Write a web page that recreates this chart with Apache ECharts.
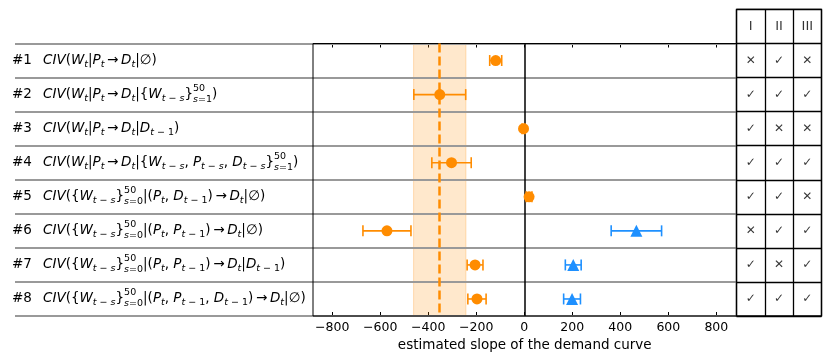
<!DOCTYPE html>
<html>
<head>
<meta charset="utf-8">
<script src="https://cdn.jsdelivr.net/npm/echarts@6/dist/echarts.min.js"></script>
<style>
html,body{margin:0;padding:0;background:#fff;}
#chart{width:831px;height:362px;}
</style>
</head>
<body>
<div id="chart"></div>
<script>
// ---------------- data ----------------
const rowIds = ['#1', '#2', '#3', '#4', '#5', '#6', '#7', '#8'];
const rowFormulas = [
  'CIV(W_t|P_t→D_t|∅)',
  'CIV(W_t|P_t→D_t|\\{W_{t − s}\\}^{50}_{s=1})',
  'CIV(W_t|P_t→D_t|D_{t − 1})',
  'CIV(W_t|P_t→D_t|\\{W_{t − s}, P_{t − s}, D_{t − s}\\}^{50}_{s=1})',
  'CIV(\\{W_{t − s}\\}^{50}_{s=0}|(P_t, D_{t − 1})→D_t|∅)',
  'CIV(\\{W_{t − s}\\}^{50}_{s=0}|(P_t, P_{t − 1})→D_t|∅)',
  'CIV(\\{W_{t − s}\\}^{50}_{s=0}|(P_t, P_{t − 1})→D_t|D_{t − 1})',
  'CIV(\\{W_{t − s}\\}^{50}_{s=0}|(P_t, P_{t − 1}, D_{t − 1})→D_t|∅)'
];
const orangeEst = [-119, -352, -3, -303, 20, -572, -205, -197];
const orangeErr = [25, 108, 6, 82, 12, 100, 33, 38];
const blueEst = [null, null, null, null, null, 467, 204, 199];
const blueErr = [null, null, null, null, null, 105, 33, 35];
const refMedian = -354;
const refLow = -461;
const refHigh = -243;
const xTicks = [-800, -600, -400, -200, 0, 200, 400, 600, 800];
const xName = 'estimated slope of the demand curve';
const tableHeader = ['I', 'II', 'III'];
const colI   = ['✕', '✓', '✓', '✓', '✓', '✕', '✓', '✓'];
const colII  = ['✓', '✓', '✕', '✓', '✓', '✓', '✕', '✓'];
const colIII = ['✕', '✓', '✕', '✓', '✕', '✓', '✓', '✓'];

// ---------------- helpers ----------------
const FONT = 'DejaVu Sans';
const ORANGE = '#ff8c00';
const BLUE = '#1e90ff';

function texToRich(s) {
  let out = '';
  let i = 0;
  function readGroup() {
    if (s[i] === '{') {
      let depth = 1, j = i + 1;
      while (depth) { if (s[j] === '{') depth++; else if (s[j] === '}') depth--; j++; }
      const g = s.slice(i + 1, j - 1); i = j; return g;
    }
    return s[i++];
  }
  function scriptTokens(g, it, up) {
    let res = '', cur = null, buf = '';
    for (const ch of g) {
      const k = /[A-Za-z]/.test(ch) ? it : up;
      if (k !== cur && buf) { res += '{' + cur + '|' + buf + '}'; buf = ''; }
      cur = k; buf += ch;
    }
    if (buf) res += '{' + cur + '|' + buf + '}';
    return res;
  }
  while (i < s.length) {
    const ch = s[i];
    if (ch === '\\') { out += s[i + 1]; i += 2; continue; }
    if (ch === '_') { i++; out += scriptTokens(readGroup(), 'si', 'sr'); continue; }
    if (ch === '^') {
      i++; const sup = readGroup();
      if (s[i] === '_') { i++; const sub = readGroup(); out += '{pz|' + sup + '}' + scriptTokens(sub, 'ssi', 'ssr'); }
      else out += scriptTokens(sup, 'pi', 'pr');
      continue;
    }
    if (/[A-Za-z]/.test(ch)) {
      let j = i; while (j < s.length && /[A-Za-z]/.test(s[j])) j++;
      out += '{i|' + s.slice(i, j) + '}'; i = j; continue;
    }
    if (ch === '→') { out += '\u2009→\u2009'; i++; continue; }
    out += ch; i++;
  }
  return out;
}

const FS = 13.5, SFS = 9.5;
const rich = {
  n:   {fontFamily: FONT, fontSize: FS, width: 31, align: 'left', color: '#000'},
  i:   {fontFamily: FONT, fontSize: FS, fontStyle: 'italic', color: '#000'},
  si:  {fontFamily: FONT, fontSize: SFS, fontStyle: 'italic', padding: [7, 0, 0, 0], color: '#000'},
  sr:  {fontFamily: FONT, fontSize: SFS, padding: [7, 0, 0, 0], color: '#000'},
  ssi: {fontFamily: FONT, fontSize: SFS, fontStyle: 'italic', padding: [10, 0, 0, 0], color: '#000'},
  ssr: {fontFamily: FONT, fontSize: SFS, padding: [10, 0, 0, 0], color: '#000'},
  pr:  {fontFamily: FONT, fontSize: SFS, padding: [0, 0, 11, 0], color: '#000'},
  pi:  {fontFamily: FONT, fontSize: SFS, fontStyle: 'italic', padding: [0, 0, 11, 0], color: '#000'},
  pz:  {fontFamily: FONT, fontSize: SFS, padding: [0, 0, 12, 0], width: 0.01, align: 'left', color: '#000'}
};

function fmtNum(v) { return v < 0 ? '\u2212' + (-v) : String(v); }

// ---------------- series data ----------------
const rowIdx = rowIds.map((_, k) => k);
const orangePts = rowIdx.map(k => [orangeEst[k], k]);
const orangeBars = rowIdx.map(k => [orangeEst[k], k, orangeEst[k] - orangeErr[k], orangeEst[k] + orangeErr[k]]);
const bluePts = rowIdx.filter(k => blueEst[k] != null).map(k => [blueEst[k], k]);
const blueBars = rowIdx.filter(k => blueEst[k] != null).map(k => [blueEst[k], k, blueEst[k] - blueErr[k], blueEst[k] + blueErr[k]]);

const tableRows = ['hdr'].concat(rowIds);
const tableCells = [];
for (let r = 0; r < tableRows.length; r++) {
  for (let c = 0; c < 3; c++) {
    const txt = r === 0 ? tableHeader[c] : [colI, colII, colIII][c][r - 1];
    tableCells.push({value: [c, r], txt: txt, hdr: r === 0});
  }
}

function errRender(color) {
  return function (params, api) {
    const y = api.value(1);
    const lo = api.coord([api.value(2), y]);
    const hi = api.coord([api.value(3), y]);
    const cap = 5.5;
    const st = {stroke: color, lineWidth: 1.6};
    return {type: 'group', children: [
      {type: 'line', shape: {x1: lo[0], y1: lo[1], x2: hi[0], y2: hi[1]}, style: st},
      {type: 'line', shape: {x1: lo[0], y1: lo[1] - cap, x2: lo[0], y2: lo[1] + cap}, style: st},
      {type: 'line', shape: {x1: hi[0], y1: hi[1] - cap, x2: hi[0], y2: hi[1] + cap}, style: st}
    ]};
  };
}

// ---------------- layout ----------------
const PT = 43.5, PB = 316, PL = 313, PR = 736.5;
const rowH = (PB - PT) / 8;

const chart = echarts.init(document.getElementById('chart'), null, {renderer: 'canvas'});
chart.setOption({
  animation: false,
  backgroundColor: '#fff',
  grid: [
    {left: PL, top: PT, width: PR - PL, height: PB - PT, show: true, borderColor: '#000', borderWidth: 1, backgroundColor: 'transparent', z: 3},
    {left: 15, top: PT, width: PR - 15, height: PB - PT, show: false},
    {left: PR, top: PT - rowH, width: 85, height: rowH * 9, show: true, borderColor: '#000', borderWidth: 1.3, backgroundColor: 'transparent', z: 3}
  ],
  xAxis: [
    {gridIndex: 0, type: 'value', min: -880, max: 884, position: 'bottom',
      axisLine: {show: false},
      splitLine: {show: false},
      axisTick: {show: true, inside: true, length: 4, customValues: xTicks, lineStyle: {color: '#000', width: 1}},
      axisLabel: {customValues: xTicks, formatter: fmtNum, fontFamily: FONT, fontSize: 12.5, color: '#000', margin: 5},
      name: xName, nameLocation: 'middle', nameGap: 22,
      nameTextStyle: {fontFamily: FONT, fontSize: 13.5, color: '#000'}
    },
    {gridIndex: 0, type: 'value', min: -880, max: 884, position: 'top',
      axisLine: {show: false}, splitLine: {show: false}, axisLabel: {show: false},
      axisTick: {show: true, inside: true, length: 4, customValues: xTicks, lineStyle: {color: '#000', width: 1}}
    },
    {gridIndex: 1, type: 'value', min: 0, max: 1, show: false},
    {gridIndex: 2, type: 'category', data: tableHeader, show: true,
      axisLine: {show: false}, axisTick: {show: false}, axisLabel: {show: false},
      splitLine: {show: true, interval: 0, lineStyle: {color: '#000', width: 1.3}}
    }
  ],
  yAxis: [
    {gridIndex: 0, type: 'category', data: rowIds, inverse: true,
      axisLine: {show: false}, axisTick: {show: false}, splitLine: {show: false},
      axisLabel: {
        interval: 0, align: 'left', margin: PL - 12, color: '#000',
        fontFamily: FONT, fontSize: FS,
        formatter: function (v, idx) { return '{n|' + rowIds[idx] + '}' + texToRich(rowFormulas[idx]); },
        rich: rich
      }
    },
    {gridIndex: 1, type: 'category', data: rowIds, inverse: true, z: 2,
      axisLine: {show: false}, axisTick: {show: false}, axisLabel: {show: false},
      splitLine: {show: true, interval: 0, lineStyle: {color: '#999999', width: 2}}
    },
    {gridIndex: 2, type: 'category', data: tableRows, inverse: true,
      axisLine: {show: false}, axisTick: {show: false}, axisLabel: {show: false},
      splitLine: {show: true, interval: 0, lineStyle: {color: '#000', width: 1.3}}
    }
  ],
  series: [
    {type: 'scatter', xAxisIndex: 0, yAxisIndex: 0, data: [], z: 1,
      markArea: {silent: true, z: 1,
        itemStyle: {color: 'rgba(255,140,0,0.2)', borderColor: 'rgba(255,140,0,0.25)', borderWidth: 1},
        data: [[{xAxis: refLow}, {xAxis: refHigh}]]}
    },
    {type: 'scatter', xAxisIndex: 0, yAxisIndex: 0, data: [], z: 4,
      markLine: {silent: true, symbol: 'none', label: {show: false}, z: 4,
        data: [
          {xAxis: 0, lineStyle: {color: '#000', width: 1.5, type: 'solid'}},
          {xAxis: refMedian, lineStyle: {color: ORANGE, width: 2.5, type: [9, 4]}}
        ]}
    },
    {type: 'custom', xAxisIndex: 0, yAxisIndex: 0, data: orangeBars, z: 6, renderItem: errRender(ORANGE), encode: {x: [0, 2, 3], y: 1}},
    {type: 'custom', xAxisIndex: 0, yAxisIndex: 0, data: blueBars, z: 6, renderItem: errRender(BLUE), encode: {x: [0, 2, 3], y: 1}},
    {type: 'scatter', xAxisIndex: 0, yAxisIndex: 0, data: orangePts, z: 7, symbol: 'circle', symbolSize: 11, itemStyle: {color: ORANGE, opacity: 1}},
    {type: 'scatter', xAxisIndex: 0, yAxisIndex: 0, data: bluePts, z: 7, symbol: 'triangle', symbolSize: 12, itemStyle: {color: BLUE, opacity: 1}},
    {type: 'scatter', xAxisIndex: 3, yAxisIndex: 2, data: tableCells, z: 8, symbolSize: 1,
      itemStyle: {color: 'rgba(0,0,0,0)'},
      label: {show: true, position: 'inside', color: '#000', fontFamily: FONT, fontSize: 12,
        formatter: function (p) { return p.data.hdr ? '{h|' + p.data.txt + '}' : p.data.txt; },
        rich: {h: {fontFamily: FONT, fontSize: 13, color: '#000'}}},
      labelLayout: {hideOverlap: false}
    }
  ]
});
</script>
</body>
</html>
